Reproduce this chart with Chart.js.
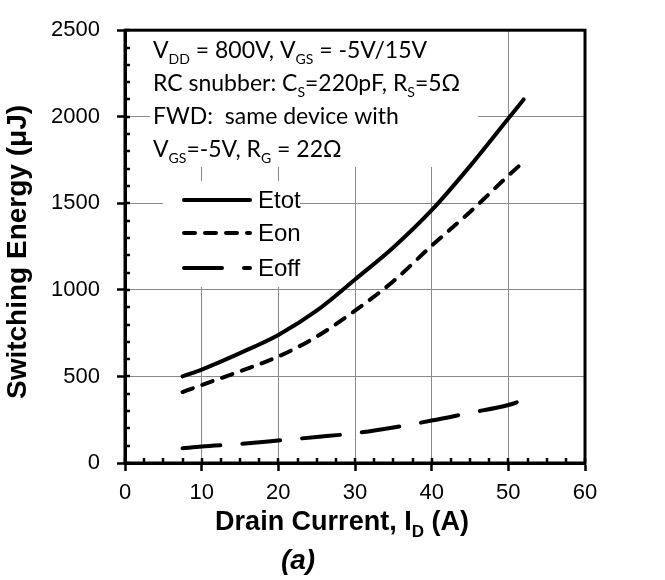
<!DOCTYPE html>
<html>
<head>
<meta charset="utf-8">
<script src="https://cdn.jsdelivr.net/npm/chart.js@4.4.1/dist/chart.umd.min.js"></script>
<style>
  html, body { margin: 0; padding: 0; background: #fff; }
  #wrap { width: 665px; height: 580px; }
</style>
</head>
<body>
<div id="wrap"><canvas id="chart"></canvas></div>
<script>
// values
const currentA = [7.5, 10, 15, 20, 25, 30, 35, 40, 45, 50, 52];
const eTot = [500, 540, 635, 740, 880, 1060, 1245, 1460, 1715, 1990, 2100];
const eOn  = [410, 450, 530, 615, 730, 880, 1050, 1255, 1450, 1660, 1740];
const eOff = [85, 95, 110, 130, 150, 172, 205, 245, 290, 335, 365];
const seriesLabels = ['Etot', 'Eon', 'Eoff'];
const xRange = [0, 60];
const yRange = [0, 2500];

const tickFont = "'Liberation Sans', Arial, sans-serif";
const noteFont = "Lato, 'Open Sans', sans-serif";

function pts(ys) {
    return currentA.map((x, i) => ({x: x, y: ys[i]}));
}

function line(label, ys, dash) {
    return {
        label: label,
        data: pts(ys),
        borderColor: '#000',
        borderWidth: 4,
        borderDash: dash,
        borderCapStyle: 'round',
        pointRadius: 0,
        cubicInterpolationMode: 'monotone',
        fill: false
    };
}

// draws text pieces, some of them as subscripts; returns width
function richText(ctx, x, y, parts, size, draw) {
    let cx = 0;
    parts.forEach(p => {
        const sub = p[1];
        ctx.font = (p[2] || '') + ' ' + (sub ? Math.round(size * 0.62) : size) + 'px ' + (p[3] || noteFont);
        if (draw !== false) ctx.fillText(p[0], x + cx, y + (sub ? size * 0.27 : 0));
        cx += ctx.measureText(p[0]).width;
    });
    return cx;
}

const notes = [
    [['V'], ['DD', 1], [' = 800V, V'], ['GS', 1], [' = -5V/15V']],
    [['RC snubber: C'], ['S', 1], ['=220pF, R'], ['S', 1], ['=5\u03A9']],
    [['FWD:  same device with']],
    [['V'], ['GS', 1], ['=-5V, R'], ['G', 1], [' = 22\u03A9']]
];

const decor = {
    id: 'decor',
    beforeDatasetsDraw(chart) {
        const ctx = chart.ctx;
        ctx.save();
        ctx.fillStyle = '#fff';
        ctx.fillRect(150, 29, 328, 138);   // note box
        ctx.fillRect(163, 181, 137, 106);  // legend box
        ctx.restore();
    },
    afterDatasetsDraw(chart) {
        const ctx = chart.ctx;
        const {left, right, top, bottom} = chart.chartArea;
        const xs = chart.scales.x, ys = chart.scales.y;
        ctx.save();
        ctx.strokeStyle = '#000';
        ctx.lineWidth = 2.5;
        ctx.lineCap = 'butt';
        // minor ticks inside the plot
        for (let v = xRange[0]; v <= xRange[1]; v += 2.5) {
            const p = Math.round(xs.getPixelForValue(v));
            ctx.beginPath();
            ctx.moveTo(p, bottom);
            ctx.lineTo(p, bottom - 5);
            ctx.stroke();
        }
        for (let v = yRange[0]; v <= yRange[1]; v += 100) {
            const p = Math.round(ys.getPixelForValue(v));
            ctx.beginPath();
            ctx.moveTo(left, p);
            ctx.lineTo(left + 5, p);
            ctx.stroke();
        }
        // frame
        ctx.lineWidth = 3;
        ctx.strokeRect(left, top, right - left, bottom - top);

        // notes
        ctx.fillStyle = '#000';
        ctx.textBaseline = 'alphabetic';
        const base = [58, 91, 124, 157];
        notes.forEach((n, i) => richText(ctx, 153, base[i], n, 23));

        // legend
        const rows = [200, 233, 268];
        chart.data.datasets.forEach((ds, i) => {
            ctx.save();
            ctx.lineWidth = ds.borderWidth;
            ctx.lineCap = 'round';
            ctx.setLineDash(ds.borderDash || []);
            ctx.beginPath();
            ctx.moveTo(184, rows[i]);
            ctx.lineTo(250, rows[i]);
            ctx.stroke();
            ctx.restore();
            ctx.textBaseline = 'middle';
            richText(ctx, 258, rows[i] + 1, [[ds.label, 0, '', tickFont]], 24);
        });

        // axis titles and panel tag
        ctx.textBaseline = 'alphabetic';
        const title = [['Drain Current, I', 0, 'bold', tickFont], ['D', 1, 'bold', tickFont], [' (A)', 0, 'bold', tickFont]];
        const w = richText(ctx, 0, 0, title, 27, false);
        richText(ctx, 342 - w / 2, 530, title, 27);
        const tag = [['(a)', 0, 'italic bold', tickFont]];
        const tw = richText(ctx, 0, 0, tag, 28, false);
        richText(ctx, 298 - tw / 2, 569, tag, 28);

        ctx.save();
        ctx.translate(18, 252);
        ctx.rotate(-Math.PI / 2);
        ctx.textAlign = 'center';
        ctx.textBaseline = 'middle';
        ctx.font = 'bold 28px ' + tickFont;
        ctx.fillText('Switching Energy (\u03BCJ)', 0, 0);
        ctx.restore();
        ctx.restore();
    }
};

const ctx = document.getElementById('chart');
new Chart(ctx, {
    type: 'line',
    data: {
        datasets: [
            line(seriesLabels[0], eTot, []),
            line(seriesLabels[1], eOn, [11, 10]),
            line(seriesLabels[2], eOff, [38, 22])
        ]
    },
    options: {
        responsive: true,
        maintainAspectRatio: false,
        animation: false,
        layout: {
            padding: {top: 20, right: 80, left: 0, bottom: 0}
        },
        plugins: {
            legend: {display: false},
            tooltip: {enabled: false}
        },
        scales: {
            x: {
                type: 'linear',
                min: xRange[0],
                max: xRange[1],
                afterFit: function (scale) { scale.height = 117; },
                ticks: {
                    stepSize: 10,
                    color: '#000',
                    padding: 9,
                    font: {family: tickFont, size: 22},
                    callback: v => String(v)
                },
                grid: {
                    color: '#8a8a8a',
                    lineWidth: 1,
                    tickLength: 8,
                    tickColor: '#000',
                    tickWidth: 2.5
                },
                border: {display: true, color: '#000', width: 3}
            },
            y: {
                min: yRange[0],
                max: yRange[1],
                afterFit: function (scale) { scale.width = 125; },
                ticks: {
                    stepSize: 500,
                    color: '#000',
                    padding: 17,
                    font: {family: tickFont, size: 22},
                    callback: v => String(v)
                },
                grid: {
                    color: '#8a8a8a',
                    lineWidth: 1,
                    tickLength: 8,
                    tickColor: '#000',
                    tickWidth: 2.5
                },
                border: {display: true, color: '#000', width: 3}
            }
        }
    },
    plugins: [decor]
});
</script>
</body>
</html>
